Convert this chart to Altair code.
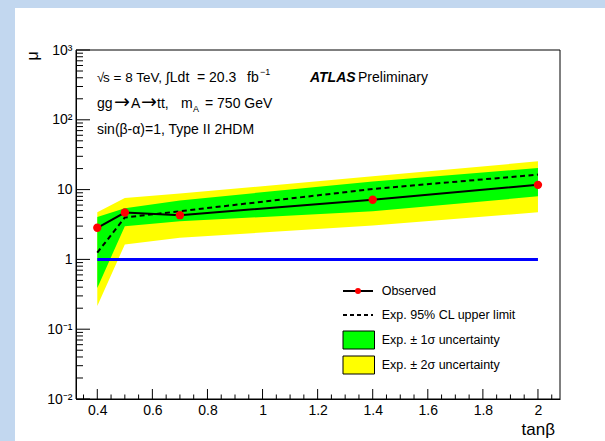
import altair as alt
import pandas as pd

# ---------------- data ----------------
tanb = [0.4, 0.5, 0.7, 1.4, 2.0]
mu_obs = [2.84, 4.69, 4.3, 7.15, 11.7]
mu_exp = [1.25, 3.98, 4.9, 10.2, 16.4]
mu_m1 = [0.39, 2.99, 3.52, 4.9, 8.0]
mu_p1 = [4.05, 5.4, 7.0, 13.1, 20.4]
mu_m2 = [0.215, 1.64, 2.04, 3.06, 4.74]
mu_p2 = [4.75, 7.6, 8.8, 15.5, 25.4]

ref_tanb = [0.4, 2.0]
ref_mu = [1.0, 1.0]

x_major = [0.4, 0.6, 0.8, 1.0, 1.2, 1.4, 1.6, 1.8, 2.0]
x_minor = [round(0.35 + 0.05 * i, 2) for i in range(35)]
x_minor = [v for v in x_minor if all(abs(v - m) > 1e-6 for m in x_major)]
y_major = [0.01, 0.1, 1, 10, 100, 1000]
y_labels = ["10⁻²", "10⁻¹", "1", "10", "10²", "10³"]
y_minor = [m * 10.0 ** e for e in range(-2, 3) for m in range(2, 10)]

legend_labels = ["Observed", "Exp. 95% CL upper limit",
                 "Exp. ± 1σ uncertainty", "Exp. ± 2σ uncertainty"]

# ---------------- layout ----------------
W, H = 484, 349
PAD_L, PAD_T = 76, 50
FONT = "Liberation Sans"

df = pd.DataFrame(dict(tanb=tanb, obs=mu_obs, exp=mu_exp, m1=mu_m1,
                       p1=mu_p1, m2=mu_m2, p2=mu_p2))
df_ref = pd.DataFrame(dict(tanb=ref_tanb, mu=ref_mu))
one = pd.DataFrame({"a": [0]})

xscale = alt.Scale(domain=[0.3227, 2.08], nice=False, zero=False)
yscale = alt.Scale(type="log", domain=[0.01, 1000], nice=False)

xaxis = alt.Axis(values=x_major, format="~g", title=None, grid=False,
                 tickSize=0, labelPadding=4, labelFont=FONT, labelFontSize=14,
                 labelColor="black", domainColor="black", zindex=1)
expr = " : ".join(
    f"round(log(datum.value)/LN10) == {e} ? '{lab}'"
    for e, lab in zip(range(-2, 4), y_labels)) + " : ''"
yaxis = alt.Axis(values=y_major, labelExpr=expr, title=None, grid=False,
                 tickSize=0, labelPadding=4, labelFont=FONT, labelFontSize=14,
                 labelColor="black", domainColor="black", zindex=1)


def X(f):
    return alt.X(f, type="quantitative", scale=xscale, axis=xaxis)


def Y(f):
    return alt.Y(f, type="quantitative", scale=yscale, axis=yaxis)


band2 = alt.Chart(df).mark_area(color="#ffff00", opacity=1).encode(
    x=X("tanb"), y=Y("m2"), y2="p2")
band1 = alt.Chart(df).mark_area(color="#00ff00", opacity=1).encode(
    x=X("tanb"), y=Y("m1"), y2="p1")
refline = alt.Chart(df_ref).mark_line(color="#0000ff", strokeWidth=3).encode(
    x=X("tanb"), y=Y("mu"))
expline = alt.Chart(df).mark_line(color="black", strokeWidth=2,
                                  strokeDash=[5, 3.5]).encode(
    x=X("tanb"), y=Y("exp"))
obsline = alt.Chart(df).mark_line(color="black", strokeWidth=2).encode(
    x=X("tanb"), y=Y("obs"))
obspts = alt.Chart(df).mark_circle(color="#ff0000", size=70, opacity=1).encode(
    x=X("tanb"), y=Y("obs"))

# inward ticks
ytm = alt.Chart(pd.DataFrame({"v": y_major})).mark_rule(color="black").encode(
    y=Y("v"), x=alt.value(0), x2=alt.value(14))
ytn = alt.Chart(pd.DataFrame({"v": y_minor})).mark_rule(color="black").encode(
    y=Y("v"), x=alt.value(0), x2=alt.value(7))
xtm = alt.Chart(pd.DataFrame({"v": x_major})).mark_rule(color="black").encode(
    x=X("v"), y=alt.value(H), y2=alt.value(H - 10))
xtn = alt.Chart(pd.DataFrame({"v": x_minor})).mark_rule(color="black").encode(
    x=X("v"), y=alt.value(H), y2=alt.value(H - 4.5))

frame = alt.Chart(one).mark_rect(filled=False, stroke="black", strokeWidth=1).encode(
    x=alt.value(0), x2=alt.value(W), y=alt.value(0), y2=alt.value(H))

# light blue border of the canvas
BLUE = "#c2d7ef"
blue_top = alt.Chart(one).mark_rect(color=BLUE).encode(
    x=alt.value(-PAD_L), x2=alt.value(605 - PAD_L),
    y=alt.value(-PAD_T), y2=alt.value(8 - PAD_T))
blue_left = alt.Chart(one).mark_rect(color=BLUE).encode(
    x=alt.value(-PAD_L), x2=alt.value(15 - PAD_L),
    y=alt.value(-PAD_T), y2=alt.value(441 - PAD_T))


def txt(s, x, y, size=14, **kw):
    return alt.Chart(one).mark_text(text=s, font=kw.pop("font", FONT), fontSize=size,
                                    color="black", align=kw.pop("align", "left"),
                                    baseline=kw.pop("baseline", "alphabetic"),
                                    **kw).encode(x=alt.value(x), y=alt.value(y))


texts = [
    txt("√", 21, 32, size=13),
    txt("s = 8 TeV,", 27, 32, size=13.5),
    txt("∫Ldt", 90, 32),
    txt("= 20.3", 121, 32),
    txt("fb", 171, 32),
    txt("−1", 184, 25, size=9),
    txt("ATLAS", 234, 32, fontWeight="bold", fontStyle="italic"),
    txt("Preliminary", 282, 32),
    txt("gg", 21, 58),
    txt("→", 46, 52, size=19, align="center", baseline="middle", font="DejaVu Sans"),
    txt("A", 55, 58),
    txt("→", 73, 52, size=19, align="center", baseline="middle", font="DejaVu Sans"),
    txt("tt,", 81, 58),
    txt("m", 105, 58),
    txt("A", 117, 62, size=9),
    txt("= 750 GeV", 129, 58),
    txt("sin(β-α)=1, Type II 2HDM", 21, 84),
    txt("tanβ", 479, 385, size=17, align="right"),
    txt("μ", -43.5, 6, size=16, align="center", baseline="middle", angle=270),
]

# legend
LX0, LX1, LT = 267, 297, 305.7
ly = [241, 265, 290, 315]
leg = [
    alt.Chart(one).mark_rule(color="black", strokeWidth=2).encode(
        x=alt.value(LX0), x2=alt.value(LX1), y=alt.value(ly[0])),
    alt.Chart(one).mark_circle(color="#ff0000", size=35, opacity=1).encode(
        x=alt.value((LX0 + LX1) / 2), y=alt.value(ly[0])),
    alt.Chart(one).mark_rule(color="black", strokeWidth=2, strokeDash=[4, 3]).encode(
        x=alt.value(LX0), x2=alt.value(LX1), y=alt.value(ly[1])),
    alt.Chart(one).mark_rect(fill="#00ff00", stroke="black", strokeWidth=1).encode(
        x=alt.value(LX0), x2=alt.value(LX1 + 1.5), y=alt.value(ly[2] - 9),
        y2=alt.value(ly[2] + 9)),
    alt.Chart(one).mark_rect(fill="#ffff00", stroke="black", strokeWidth=1).encode(
        x=alt.value(LX0), x2=alt.value(LX1 + 1.5), y=alt.value(ly[3] - 9),
        y2=alt.value(ly[3] + 9)),
]
leg += [txt(lab, LT, yy, size=12.5, baseline="middle")
        for lab, yy in zip(legend_labels, ly)]

chart = alt.layer(
    blue_top, blue_left,
    band2, band1, refline, expline, obsline, obspts,
    ytm, ytn, xtm, xtn, frame,
    *texts, *leg,
).properties(
    width=W, height=H,
    autosize=alt.AutoSizeParams(type="none"),
    padding={"left": PAD_L, "top": PAD_T, "right": 605 - PAD_L - W,
             "bottom": 441 - PAD_T - H},
    background="white",
).configure_view(stroke=None)

chart.save("out.html", embed_options={"renderer": "svg", "actions": False})
